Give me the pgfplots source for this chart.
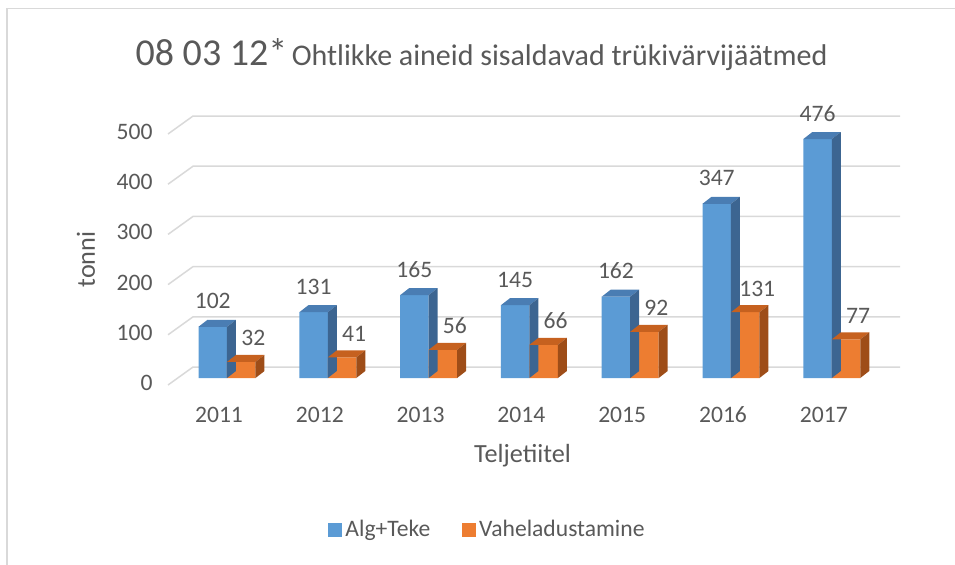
\documentclass[border=0pt]{standalone}
\usepackage{pgfplots}
\pgfplotsset{compat=1.18}
\usepackage{pgfplotstable}
\usepackage{fontspec}
\setmainfont{Carlito}
\pgfkeys{/pgf/number format/assume math mode=true}

\definecolor{txt}{HTML}{595959}
\definecolor{gridc}{HTML}{D9D9D9}
\definecolor{framec}{HTML}{D9D9D9}
\definecolor{bfront}{HTML}{5B9BD5}
\definecolor{btop}{HTML}{4A7DB3}
\definecolor{bside}{HTML}{3C6591}
\definecolor{ofront}{HTML}{ED7D31}
\definecolor{otop}{HTML}{C6611F}
\definecolor{oside}{HTML}{9E4D18}

\pgfplotstableread{
x year alg vahe
0 2011 102 32
1 2012 131 41
2 2013 165 56
3 2014 145 66
4 2015 162 92
5 2016 347 131
6 2017 476 77
}\datatable

\newdimen\barH
\newcommand\cubefaces[2]{%
  \pgfmathsetlength\barH{\val*0.251pt}%
  \pgfpathmoveto{\pgfpoint{-14.25pt}{0pt}}%
  \pgfpathlineto{\pgfpoint{0pt}{0pt}}%
  \pgfpathlineto{\pgfpoint{4.5pt}{3.5pt}}%
  \pgfpathlineto{\pgfpoint{-9.75pt}{3.5pt}}%
  \pgfpathclose
  \pgfsetfillcolor{#1}\pgfusepath{fill}%
  \pgfpathmoveto{\pgfpoint{0pt}{0pt}}%
  \pgfpathlineto{\pgfpoint{4.5pt}{3.5pt}}%
  \pgfpathlineto{\pgfpoint{4.5pt}{3.5pt-\barH}}%
  \pgfpathlineto{\pgfpoint{0pt}{-\barH}}%
  \pgfpathclose
  \pgfsetfillcolor{#2}\pgfusepath{fill}%
}
\pgfdeclareplotmark{cubeB}{\cubefaces{btop}{bside}}
\pgfdeclareplotmark{cubeO}{\cubefaces{otop}{oside}}

\newcommand\nine{\fontsize{11.8}{14}\selectfont}

\begin{document}
\begin{tikzpicture}
\begin{scope}[x=0.5pt,y=-0.5pt]
  \useasboundingbox (0,0) rectangle (955,564);
  \draw[framec, line width=0.75pt] (7,8.5) rectangle (1000,620);
\end{scope}
\begin{axis}[
  at={(83.26pt,-194.02pt)}, anchor=south west,
  x=50.4pt, y=0.251pt,
  xmin=-0.6, xmax=6.7, ymin=-20, ymax=540,
  clip=false,
  axis line style={draw=none},
  tick style={draw=none},
  major tick length=0pt,
  xtick={0,...,6},
  xticklabels={2011,2012,2013,2014,2015,2016,2017},
  ytick={0,100,...,500},
  tick label style={font=\nine, text=txt},
  yticklabel style={anchor=east, inner sep=0pt, xshift=-6.75pt, yshift=-2.5pt},
  xticklabel style={anchor=center, inner sep=0pt, xshift=-4pt, yshift=-13.5pt},
  xlabel={Teljetiitel}, ylabel={tonni},
  every axis x label/.style={at={(axis cs:2.932,-167.3)}, anchor=base, font=\fontsize{13.1}{16}\selectfont, text=txt, inner sep=0pt},
  every axis y label/.style={at={(axis cs:-1.31,236.1)}, rotate=90, anchor=base, font=\fontsize{13.1}{16}\selectfont, text=txt, inner sep=0pt},
  title={{\fontsize{19}{23}\selectfont 08 03 12*} {\fontsize{15}{18}\selectfont Ohtlikke aineid sisaldavad trükivärvijäätmed}},
  every axis title/.style={at={(axis cs:2.525,623.5)}, anchor=base, text=txt, inner sep=0pt},
  legend columns=2,
  legend style={at={(0.4369,-0.505)}, anchor=center, draw=none, fill=none,
    font=\nine, text=txt, inner sep=0pt,
    nodes={inner sep=1.5pt},
    /tikz/every even column/.append style={column sep=14.5pt}},
]
\draw[gridc, line width=0.75pt] (axis cs:-0.585,-13.9) -- (axis cs:-0.337,21.9) -- (axis cs:6.677,21.9);
\draw[gridc, line width=0.75pt] (axis cs:-0.585,86.1) -- (axis cs:-0.337,121.9) -- (axis cs:6.677,121.9);
\draw[gridc, line width=0.75pt] (axis cs:-0.585,186.1) -- (axis cs:-0.337,221.9) -- (axis cs:6.677,221.9);
\draw[gridc, line width=0.75pt] (axis cs:-0.585,286.1) -- (axis cs:-0.337,321.9) -- (axis cs:6.677,321.9);
\draw[gridc, line width=0.75pt] (axis cs:-0.585,386.1) -- (axis cs:-0.337,421.9) -- (axis cs:6.677,421.9);
\draw[gridc, line width=0.75pt] (axis cs:-0.585,486.1) -- (axis cs:-0.337,521.9) -- (axis cs:6.677,521.9);

% Alg+Teke: front faces
\addplot[ybar, bar width=0.2827, bar shift=-0.14135, fill=bfront, draw=none,
  legend image code/.code={\fill[bfront] (0pt,-3.5pt) rectangle (7pt,3.5pt);}]
  table[x=x, y=alg]{\datatable};
\addlegendentry{Alg+Teke}
% Alg+Teke: top and side faces
\addplot[only marks, mark=cubeB, forget plot,
  visualization depends on={\thisrow{alg} \as \val}]
  table[x=x, y=alg]{\datatable};

% Vaheladustamine: front faces
\addplot[ybar, bar width=0.2827, bar shift=0.14135, fill=ofront, draw=none,
  legend image code/.code={\fill[ofront] (0pt,-3.5pt) rectangle (7pt,3.5pt);}]
  table[x=x, y=vahe]{\datatable};
\addlegendentry{Vaheladustamine}
% Vaheladustamine: top and side faces
\addplot[only marks, mark=cubeO, forget plot,
  visualization depends on={\thisrow{vahe} \as \val}]
  table[x expr=\thisrow{x}+0.2827, y=vahe]{\datatable};

% value labels, drawn last
\addplot[draw=none, forget plot, nodes near coords,
  every node near coord/.append style={anchor=base, yshift=9pt, font=\nine, text=txt, inner sep=0pt}]
  table[x expr=\thisrow{x}-0.14135, y=alg]{\datatable};
\addplot[draw=none, forget plot, nodes near coords,
  every node near coord/.append style={anchor=base, xshift=6pt, yshift=8pt, font=\nine, text=txt, inner sep=0pt}]
  table[x expr=\thisrow{x}+0.14135, y=vahe]{\datatable};
\end{axis}
\end{tikzpicture}
\end{document}
